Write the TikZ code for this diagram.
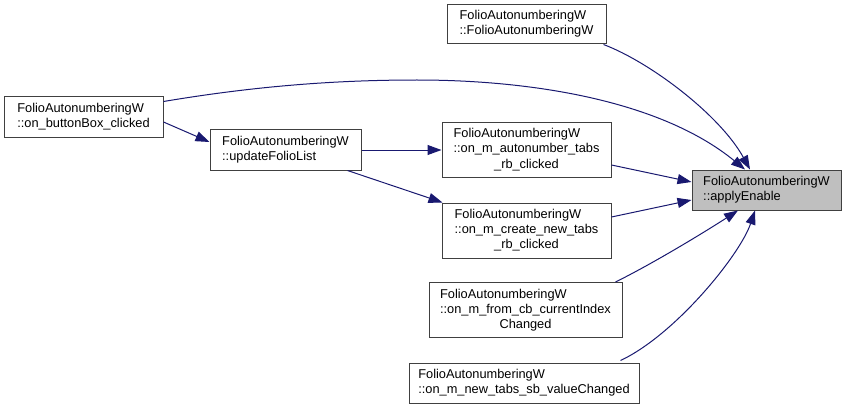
\documentclass[tikz,border=0pt]{standalone}
\usepackage{fontspec}
\setmainfont{Liberation Sans}
\usetikzlibrary{arrows.meta,calc}
\definecolor{edgec}{HTML}{191970}
\definecolor{boxc}{HTML}{404040}
\definecolor{hl}{HTML}{BFBFBF}
\newcommand{\ltab}[1]{\begin{tabular}{@{}l@{}}#1\end{tabular}}
\newcommand{\lastc}[1]{\multicolumn{1}{@{}c@{}}{#1}}
\begin{document}
\begin{tikzpicture}[x=1pt,y=-1pt,
  fnbox/.style 2 args={draw=boxc, line width=1pt, fill=white, inner sep=0pt,
    font=\fontsize{12.8}{15}\selectfont, text=black,
    minimum width=#1, minimum height=#2},
  edge/.style={draw=edgec, line width=1pt,
    -{Triangle[length=14pt,width=10pt,fill=edgec]}}
]
\useasboundingbox (0,0) rectangle (848,409);

\node[fnbox={159}{39}] (A) at (526.5,24.5) {\ltab{FolioAutonumberingW\\::FolioAutonumberingW}};
\node[fnbox={159}{40}] (B) at (83.5,117) {\ltab{FolioAutonumberingW\\::on\_buttonBox\_clicked}};
\node[fnbox={151}{40}] (C) at (285.5,150) {\ltab{FolioAutonumberingW\\::updateFolioList}};
\node[fnbox={169}{55}] (D) at (526.5,150) {\ltab{FolioAutonumberingW\\::on\_m\_autonumber\_tabs\\\lastc{\_rb\_clicked}}};
\node[fnbox={169}{55}] (E) at (526.5,230.5) {\ltab{FolioAutonumberingW\\::on\_m\_create\_new\_tabs\\\lastc{\_rb\_clicked}}};
\node[fnbox={149}{40}, fill=hl] (F) at (766.5,190) {\ltab{FolioAutonumberingW\\::applyEnable}};
\node[fnbox={193}{55}] (G) at (525.5,310) {\ltab{FolioAutonumberingW\\::on\_m\_from\_cb\_currentIndex\\\lastc{Changed}}};
\node[fnbox={230}{40}] (H) at (524,383) {\ltab{FolioAutonumberingW\\::on\_m\_new\_tabs\_sb\_valueChanged}};

% edges
\draw[edge] ($(A.south east)+(-3,0)$) .. controls (650,62) and (720,115) .. ($(F.north)+(-16.5,0)$);
\draw[edge] ($(B.north east)+(0,5)$) .. controls (250,87) and (330,80) .. (417,80)
  .. controls (530,80) and (660,100) .. ($(F.north)+(-21.5,0)$);
\draw[edge] ($(B.east)+(0,5)$) -- ($(C.west)+(0,-8)$);
\draw[edge] (C.east) -- (D.west);
\draw[edge] ($(C.south east)+(-14,0)$) -- ($(E.north west)+(1,0)$);
\draw[edge] ($(D.east)+(0,15)$) -- ($(F.west)+(0,-8)$);
\draw[edge] ($(E.east)+(0,-13.5)$) -- ($(F.west)+(0,10)$);
\draw[edge] ($(G.north east)+(-7,0)$) .. controls (650,265) and (700,235) .. ($(F.south)+(-28.5,0)$);
\draw[edge] ($(H.north east)+(-19,-2)$) .. controls (675,335) and (740,255) .. ($(F.south)+(-11.5,0)$);
\end{tikzpicture}
\end{document}
